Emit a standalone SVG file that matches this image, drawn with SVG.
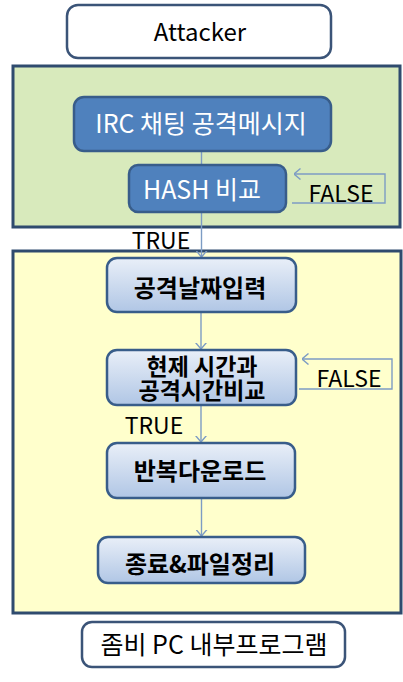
<svg xmlns="http://www.w3.org/2000/svg" width="403" height="682" viewBox="0 0 403 682">
<style>
text{font-family:"Noto Sans CJK KR","Noto Sans",sans-serif;text-anchor:middle}
.panel{stroke:#2f4b6e;stroke-width:3}
.dark{fill:#4f81bd;stroke:#385d8a;stroke-width:2.5}
.light{fill:url(#lg);stroke:#385d8a;stroke-width:2.5}
.white{fill:#fff;stroke:#3b5478;stroke-width:2.5}
.wt{fill:#fff;font-size:25px}
.bt{fill:#000;font-size:24px;font-weight:bold}
.bt2{fill:#000;font-size:23px;font-weight:bold}
.nt{fill:#000;font-size:24px}
.lbl{fill:#000;font-size:23px}
.conn{fill:none;stroke:#7d9cc4;stroke-width:1.4}
</style>
<defs>
<linearGradient id="lg" x1="0" y1="0" x2="0" y2="1">
<stop offset="0" stop-color="#e9eff8"/>
<stop offset="1" stop-color="#b0c6e5"/>
</linearGradient>
<marker id="arr" viewBox="0 0 7 12" refX="6.5" refY="6" markerWidth="7" markerHeight="12" markerUnits="userSpaceOnUse" orient="auto">
<path d="M0,0.5 L6.5,6 L0,11.5" fill="none" stroke="#7d9cc4" stroke-width="1.4"/>
</marker>
</defs>
<g id="panel-attacker-side">
<rect class="panel" x="13" y="66" width="387" height="161" fill="#d8eabc"/>
</g>
<g id="panel-zombie">
<rect class="panel" x="13" y="251" width="388" height="362" fill="#ffffcc"/>
</g>
<g id="connectors">
<line class="conn" x1="201.5" y1="151" x2="201.5" y2="165"/>
<line class="conn" x1="201.5" y1="212" x2="201.5" y2="257" marker-end="url(#arr)"/>
<line class="conn" x1="201" y1="312" x2="201" y2="349" marker-end="url(#arr)"/>
<line class="conn" x1="201" y1="405" x2="201" y2="442" marker-end="url(#arr)"/>
<line class="conn" x1="201.5" y1="498" x2="201.5" y2="536" marker-end="url(#arr)"/>
<path class="conn" d="M292,203 H385 V174 H294" marker-end="url(#arr)"/>
<path class="conn" d="M299,389 H392 V359 H302" marker-end="url(#arr)"/>
<text class="lbl" x="341" y="202">FALSE</text>
<text class="lbl" x="161" y="249">TRUE</text>
<text class="lbl" x="349" y="387">FALSE</text>
<text class="lbl" x="154" y="434">TRUE</text>
</g>
<g id="attacker">
<rect class="white" x="67" y="5" width="264" height="53" rx="11"/>
<text class="nt" x="200" y="41">Attacker</text>
</g>
<g id="irc">
<rect class="dark" x="74" y="97" width="257" height="54" rx="10"/>
<text class="wt" x="201" y="133">IRC 채팅 공격메시지</text>
</g>
<g id="hash">
<rect class="dark" x="129" y="165" width="157" height="47" rx="9"/>
<text class="wt" x="202" y="199">HASH 비교</text>
</g>
<g id="date-input">
<rect class="light" x="107" y="258" width="189" height="54" rx="10"/>
<text class="bt" x="200" y="297">공격날짜입력</text>
</g>
<g id="time-compare">
<rect class="light" x="107" y="350" width="189" height="55" rx="10"/>
<text class="bt2" x="202" y="375"><tspan x="202" y="375">현제 시간과</tspan><tspan x="202" y="399">공격시간비교</tspan></text>
</g>
<g id="download">
<rect class="light" x="107" y="443" width="188" height="55" rx="10"/>
<text class="bt" x="200" y="480">반복다운로드</text>
</g>
<g id="cleanup">
<rect class="light" x="98" y="537" width="207" height="46" rx="10"/>
<text class="bt" x="200" y="573">종료&amp;파일정리</text>
</g>
<g id="zombie-label">
<rect class="white" x="82" y="622" width="263" height="45" rx="10"/>
<text class="nt" x="214" y="654" style="font-size:25px">좀비 PC 내부프로그램</text>
</g>
</svg>
